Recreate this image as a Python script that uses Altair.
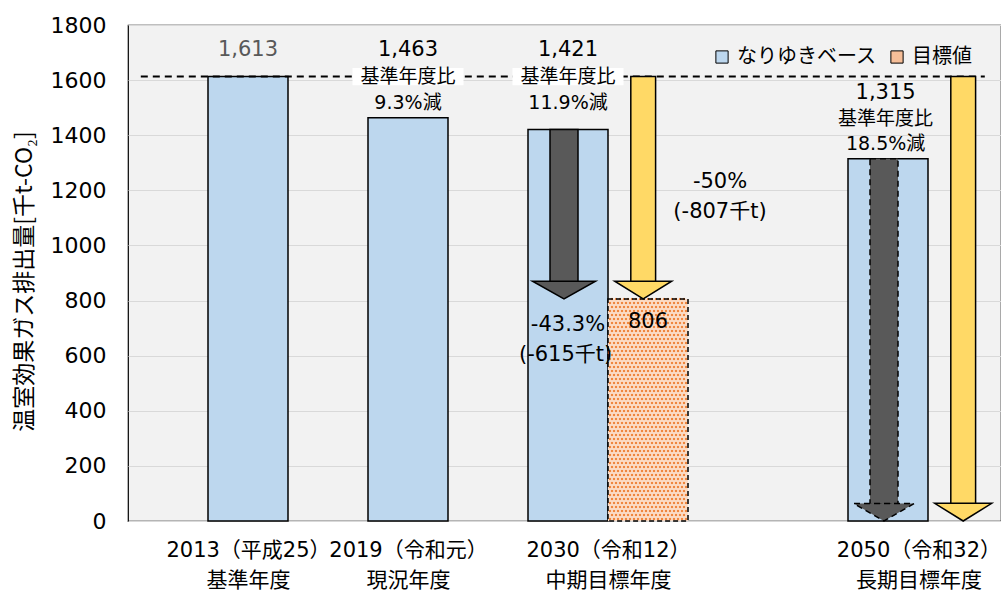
import json
import numpy as np
import altair as alt
import pandas as pd

# ---------------- data ----------------
years = ["2013", "2019", "2030", "2050"]
x_labels = [["2013（平成25）", "基準年度"], ["2019（令和元）", "現況年度"],
            ["2030（令和12）", "中期目標年度"], ["2050（令和32）", "長期目標年度"]]
cat_pos = [0, 1, 2, 4]          # order on the time axis (slot 3 left empty)
bau = [1613, 1463, 1421, 1315]  # なりゆきベース
base_val = 1613                 # 基準年度
target_years = ["2030", "2050"]
target_vals = [806, 0]          # 目標値
target_bar_years = ["2030"]     # drawn as a bar
target_bar_vals = [806]

ann_text = ["1,613", "1,463", "基準年度比", "9.3%減", "1,421", "基準年度比", "11.9%減",
            "1,315", "基準年度比", "18.5%減", "-50%", "(-807千t)", "-43.3%", "(-615千t)", "806"]
ann_year = ["2013", "2019", "2019", "2019", "2030", "2030", "2030",
            "2050", "2050", "2050", "2030", "2030", "2030", "2030", "2030"]
ann_y = [1709, 1709, 1613, 1517, 1709, 1613, 1517, 1553, 1460, 1368, 1230, 1121, 711, 602, 722]
ann_shift = [0, 0, 0, 0, 0, 0, 0, -0.03, -0.03, -0.03, 1.9, 1.9, 0, -0.03, 1.0]
ann_kind = ["gray", "num", "small", "small", "num", "small", "small",
            "num", "small", "small", "num", "num", "num", "num", "num"]
boxed = [False, False, True, False, False, True, False, False, False, False,
         False, False, False, False, False]

BLUE = "#BDD7EE"
PEACH = "#FBDCC6"
DOT = "#ED7D31"
GOLD = "#FFD966"
DARK = "#595959"
FONT = "DejaVu Sans, Noto Sans CJK JP"
JP = "Noto Sans CJK JP"

W, H = 873, 496
XMAX = W / 80.0
YMAX = 1800
UNIT = H / YMAX  # px per data unit

pos_of = dict(zip(years, cat_pos))

xs = alt.Scale(domain=[0, XMAX], nice=False, zero=False)
ys = alt.Scale(domain=[0, YMAX], nice=False)

label_pos = [1.5, 3.5, 6.0, 9.88]
expr = ""
for p, lab in zip(label_pos, x_labels):
    expr += f"datum.value < {p + 0.5} ? {json.dumps(lab, ensure_ascii=False)} : "
expr += "''"

x_axis = alt.Axis(
    values=label_pos, labelExpr=expr, grid=False, ticks=False, domain=False,
    labelFont=FONT, labelFontSize=21, labelLineHeight=30, labelPadding=18,
    labelColor="black", labelOverlap=False, labelFlush=False, title=None)
y_axis = alt.Axis(
    values=list(range(0, 1801, 200)), format="d", grid=True, gridColor="#D9D9D9",
    gridWidth=1.2, ticks=False, domain=False, labelFont="DejaVu Sans",
    labelFontSize=22, labelColor="black", labelPadding=22,
    title="温室効果ガス排出量[千t-CO₂]", titleFont=JP, titleFontSize=23,
    titleFontWeight="normal", titleColor="black", titleAngle=-90,
    titleX=-104, titleY=256, titleAlign="center", titleBaseline="middle")

# ---------------- tables ----------------
bar_df = pd.DataFrame({
    "x": [1 + 2 * p for p in cat_pos],
    "x2": [2 + 2 * p for p in cat_pos],
    "y": bau,
    "series": ["なりゆきベース"] * len(years),
})
tgt_df = pd.DataFrame({
    "x": [2 + 2 * pos_of[y] for y in target_bar_years],
    "x2": [3 + 2 * pos_of[y] for y in target_bar_years],
    "y": target_bar_vals,
    "series": ["目標値"] * len(target_bar_years),
})

# dotted texture inside the target bar (decoration only)
dots = []
step_x = 4.0 / 80.0
step_y = 4.0 / UNIT
for _, r in tgt_df.iterrows():
    row = 0
    yy = step_y / 2
    while yy < r["y"]:
        off = (step_x / 2) if row % 2 else 0.0
        for xx in np.arange(r["x"] + step_x / 2 + off, r["x2"], step_x):
            dots.append({"x": xx, "y": yy})
        yy += step_y
        row += 1
dot_df = pd.DataFrame(dots)

def arrows(centers, starts, ends, body_w, head_px):
    return pd.DataFrame({
        "x": [c - body_w / 2 for c in centers],
        "x2": [c + body_w / 2 for c in centers],
        "cx": centers,
        "y": starts,
        "y2": [e + head_px / UNIT for e in ends],
        "tip": ends,
    })

gray_c = [1.5 + 2 * pos_of[y] - 0.05 for y in target_years]
gray_s = [bau[years.index(y)] for y in target_years]
gold_c = [2.5 + 2 * pos_of[y] - 0.06 for y in target_years]
gold_s = [base_val] * len(target_years)

gray_df = arrows(gray_c, gray_s, target_vals, 0.35, 17)
gold_df = arrows(gold_c, gold_s, target_vals, 0.31, 17)

ann_df = pd.DataFrame({
    "text": ann_text,
    "x": [1.5 + 2 * pos_of[y] + s for y, s in zip(ann_year, ann_shift)],
    "y": ann_y,
    "kind": ann_kind,
    "boxed": boxed,
})

X = lambda f="x": alt.X(f"{f}:Q", scale=xs, axis=x_axis)
Y = lambda f="y": alt.Y(f"{f}:Q", scale=ys, axis=y_axis)

fill_scale = alt.Scale(domain=["なりゆきベース", "目標値"], range=[BLUE, "#F6BE98"])
legend = alt.Legend(orient="none", legendX=584, legendY=22, direction="horizontal",
                    title=None, labelFont=JP, labelFontSize=20, labelColor="black",
                    symbolType="square", symbolSize=150, symbolStrokeColor="black",
                    symbolStrokeWidth=1, columnPadding=10, labelOffset=5)

bars = alt.Chart(bar_df).mark_bar(stroke="black", strokeWidth=1.5, opacity=1).encode(
    x=X(), x2="x2:Q", y=Y(), y2=alt.datum(0),
    fill=alt.Fill("series:N", scale=fill_scale, legend=legend))

tbar = alt.Chart(tgt_df).mark_bar(strokeWidth=0, opacity=1, fill=PEACH).encode(
    x=X(), x2="x2:Q", y=Y(), y2=alt.datum(0))

# legend entry for the target series (invisible mark, shares the fill scale)
tleg = alt.Chart(tgt_df).mark_bar(opacity=0).encode(
    x=X(), x2="x2:Q", y=Y(), y2=alt.datum(0),
    fill=alt.Fill("series:N", scale=fill_scale, legend=legend))

tdots = alt.Chart(dot_df).mark_square(size=4.5, color=DOT, opacity=0.9,
                                      strokeWidth=0).encode(x=X(), y=Y())

tline = alt.Chart(tgt_df).mark_bar(fill="transparent", stroke="black", strokeWidth=1.5,
                                   strokeDash=[5, 3]).encode(
    x=X(), x2="x2:Q", y=Y(), y2=alt.datum(0))

ref = alt.Chart(pd.DataFrame({"y": [base_val]})).mark_rule(
    color="black", strokeWidth=2, strokeDash=[7, 5]).encode(
    y=Y(), x=alt.datum(0.16), x2=alt.datum(10.71))

boxes = alt.Chart(ann_df[ann_df["boxed"]]).mark_point(
    shape="M-1,-0.155L1,-0.155L1,0.155L-1,0.155Z", size=111 ** 2, filled=True,
    fill="white", strokeWidth=0, opacity=1).encode(x=X(), y=Y())

def text_layer(kind, size, color):
    return alt.Chart(ann_df[ann_df["kind"] == kind]).mark_text(
        font=FONT, fontSize=size, color=color, align="center", baseline="middle").encode(
        x=X(), y=Y(), text="text:N")

texts = (text_layer("gray", 21, DARK) + text_layer("num", 21, "black")
         + text_layer("small", 19, "black"))

def arrow_layers(df, color, head_w, ratio, dash=None):
    extra = {"strokeDash": dash} if dash else {}
    body = alt.Chart(df).mark_rect(fill=color, stroke="black", strokeWidth=1.5,
                                   opacity=1, **extra).encode(
        x=X(), x2="x2:Q", y=Y(), y2="y2:Q")
    head = alt.Chart(df).mark_point(
        shape=f"M-1,-{ratio}L1,-{ratio}L0,0Z", size=head_w ** 2, filled=True,
        fill=color, stroke="black", strokeWidth=1.5, opacity=1, **extra).encode(
        x=X("cx"), y=Y("tip"))
    return body + head

gray_solid = arrow_layers(gray_df.iloc[[0]], DARK, 63, 0.56)
gray_dash = arrow_layers(gray_df.iloc[[1]], DARK, 60, 0.58, dash=[6, 4])
gold = arrow_layers(gold_df, GOLD, 57, 0.62)

chart = alt.layer(bars, tbar, tleg, tdots, tline, ref, boxes, texts,
                  gray_solid, gray_dash, gold).properties(
    width=W, height=H,
    padding={"left": 128, "top": 25, "right": 0, "bottom": 76},
    autosize=alt.AutoSizeParams(type="none"),
    background="white",
).configure_view(fill="#F2F2F2", stroke="black", strokeWidth=1.2)

chart.save("out.html", embed_options={"renderer": "svg", "actions": False})
